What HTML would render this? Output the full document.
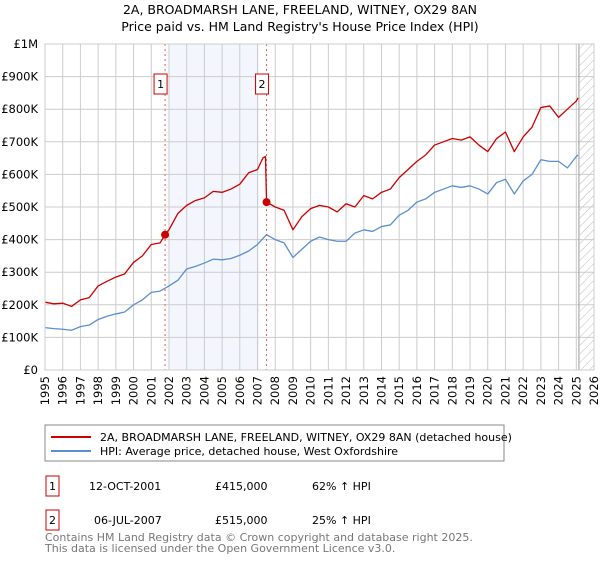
<!DOCTYPE html>
<html><head><meta charset="utf-8"><style>
body{margin:0;background:#fff;font-family:"Liberation Sans","DejaVu Sans",sans-serif;}
svg text{font-family:"DejaVu Sans","Liberation Sans",sans-serif;}
</style></head><body>
<svg id="c" width="600" height="560" viewBox="0 0 600 560" xmlns="http://www.w3.org/2000/svg">
<defs><pattern id="hatch" width="6" height="6" patternUnits="userSpaceOnUse" patternTransform="rotate(45)"><line x1="0" y1="0" x2="0" y2="6" stroke="#bbb" stroke-width="1"/></pattern></defs>
<text x="300" y="14" text-anchor="middle" font-size="12.5">2A, BROADMARSH LANE, FREELAND, WITNEY, OX29 8AN</text>
<text x="300" y="31" text-anchor="middle" font-size="12.5">Price paid vs. HM Land Registry's House Price Index (HPI)</text>
<g id="plot"></g>
<rect x="45" y="425" width="459" height="36" fill="#fff" stroke="#888"/>
<line x1="51" y1="437" x2="91" y2="437" stroke="#cc0000" stroke-width="2"/>
<text x="100" y="441" font-size="11">2A, BROADMARSH LANE, FREELAND, WITNEY, OX29 8AN (detached house)</text>
<line x1="51" y1="451" x2="91" y2="451" stroke="#5b8fd0" stroke-width="2"/>
<text x="100" y="455" font-size="11">HPI: Average price, detached house, West Oxfordshire</text>
<g>
<rect x="46" y="476" width="13" height="20" fill="#fff" stroke="#cc0000"/>
<text x="52.5" y="490" font-size="11" text-anchor="middle">1</text>
<text x="89" y="490" font-size="11">12-OCT-2001</text>
<text x="215" y="490" font-size="11">£415,000</text>
<text x="312" y="490" font-size="11">62% ↑ HPI</text></g>
<g>
<rect x="46" y="510" width="13" height="20" fill="#fff" stroke="#cc0000"/>
<text x="52.5" y="524" font-size="11" text-anchor="middle">2</text>
<text x="94" y="524" font-size="11">06-JUL-2007</text>
<text x="215" y="524" font-size="11">£515,000</text>
<text x="312" y="524" font-size="11">25% ↑ HPI</text></g>
<text x="45" y="541" font-size="11" fill="#777">Contains HM Land Registry data © Crown copyright and database right 2025.</text>
<text x="45" y="552" font-size="11" fill="#777">This data is licensed under the Open Government Licence v3.0.</text>
</svg>
<script>
const yTicks=[0,100,200,300,400,500,600,700,800,900,1000];
const yTickLabels=["£0","£100K","£200K","£300K","£400K","£500K","£600K","£700K","£800K","£900K","£1M"];
const years=[1995,1996,1997,1998,1999,2000,2001,2002,2003,2004,2005,2006,2007,2008,2009,2010,2011,2012,2013,2014,2015,2016,2017,2018,2019,2020,2021,2022,2023,2024,2025,2026];
const hpiT=[1995,1995.5,1996,1996.5,1997,1997.5,1998,1998.5,1999,1999.5,2000,2000.5,2001,2001.5,2002,2002.5,2003,2003.5,2004,2004.5,2005,2005.5,2006,2006.5,2007,2007.5,2008,2008.5,2009,2009.5,2010,2010.5,2011,2011.5,2012,2012.5,2013,2013.5,2014,2014.5,2015,2015.5,2016,2016.5,2017,2017.5,2018,2018.5,2019,2019.5,2020,2020.5,2021,2021.5,2022,2022.5,2023,2023.5,2024,2024.5,2025,2025.1];
const hpiV=[130,127,125,122,133,138,155,165,172,178,200,215,238,242,258,275,310,318,328,340,338,342,352,365,385,415,400,390,345,370,395,408,400,395,395,420,430,425,440,445,475,490,515,525,545,555,565,560,565,555,540,575,585,540,580,600,645,640,640,620,655,660];
const propT=[1995,1995.5,1996,1996.5,1997,1997.5,1998,1998.5,1999,1999.5,2000,2000.5,2001,2001.5,2001.78,2002,2002.5,2003,2003.5,2004,2004.5,2005,2005.5,2006,2006.5,2007,2007.3,2007.45,2007.51,2008,2008.5,2009,2009.5,2010,2010.5,2011,2011.5,2012,2012.5,2013,2013.5,2014,2014.5,2015,2015.5,2016,2016.5,2017,2017.5,2018,2018.5,2019,2019.5,2020,2020.5,2021,2021.5,2022,2022.5,2023,2023.5,2024,2024.5,2025,2025.1];
const propV=[208,203,205,195,215,222,258,272,285,295,330,350,385,390,415,430,480,505,520,528,548,545,555,570,605,615,650,655,515,500,490,430,470,495,505,500,485,510,500,535,525,545,555,590,615,640,660,690,700,710,705,715,690,670,710,730,670,715,745,805,810,775,800,825,835];
const saleT=[2001.78,2007.51];
const saleV=[415,515];
const saleLabels=["1","2"];
const X0=45,X1=594,Y0=370,Y1=44;
const x=t=>X0+(t-1995)/(2026-1995)*(X1-X0);
const y=v=>Y0-v/1000*(Y0-Y1);
const NS="http://www.w3.org/2000/svg";
const g=document.getElementById('plot');
function mk(tag,at,parent){const e=document.createElementNS(NS,tag);for(const k in at)e.setAttribute(k,at[k]);(parent||g).appendChild(e);return e;}
let r=mk('rect',{x:x(2002.0),y:Y1,width:x(2007.1)-x(2002.0),height:Y0-Y1,fill:'#f3f6fd'});


r=mk('rect',{x:x(2025.2),y:Y1,width:X1-x(2025.2),height:Y0-Y1,fill:'url(#hatch)'});


years.forEach(yr=>{let l=mk('line',{x1:x(yr),y1:Y1,x2:x(yr),y2:Y0,stroke:'#ccc'});


let t=mk('text',{x:0,y:0,'font-size':11.5,'text-anchor':'end',transform:`translate(${x(yr)+4},${Y0+6}) rotate(-90)`});t.textContent=yr;

});
yTicks.forEach((v,i)=>{let l=mk('line',{x1:X0,y1:y(v),x2:X1,y2:y(v),stroke:'#ccc'});


let t=mk('text',{x:38,y:y(v)+4,'font-size':11.5,'text-anchor':'end'});t.textContent=yTickLabels[i];

});
let el=mk('line',{x1:x(2025.15),y1:Y1,x2:x(2025.15),y2:Y0,stroke:'#999'});


saleT.forEach((t,i)=>{let l=mk('line',{x1:x(t),y1:Y1,x2:x(t),y2:Y0,stroke:'#e06060','stroke-dasharray':'2,3'});


let b=mk('rect',{x:x(t)-11,y:74,width:13,height:20,fill:'#fff',stroke:'#cc0000'});


let tx=mk('text',{x:x(t)-4.5,y:88,'font-size':11,'text-anchor':'middle'});tx.textContent=saleLabels[i];

});
function line(T,V,col,name){let p=mk('polyline',{points:T.map((t,i)=>x(t)+','+y(V[i])).join(' '),fill:'none',stroke:col,'stroke-width':1.3,'stroke-linejoin':'round'});

}
line(hpiT,hpiV,'#5b8fd0','hpi-line');
line(propT,propV,'#cc0000','property-price-line');
saleT.forEach((t,i)=>{let c=mk('circle',{cx:x(t),cy:y(saleV[i]),r:4,fill:'#cc0000'});

});
let ax=mk('rect',{x:X0,y:Y1,width:X1-X0,height:Y0-Y1,fill:'none',stroke:'#ccc'});


</script>
</body></html>
